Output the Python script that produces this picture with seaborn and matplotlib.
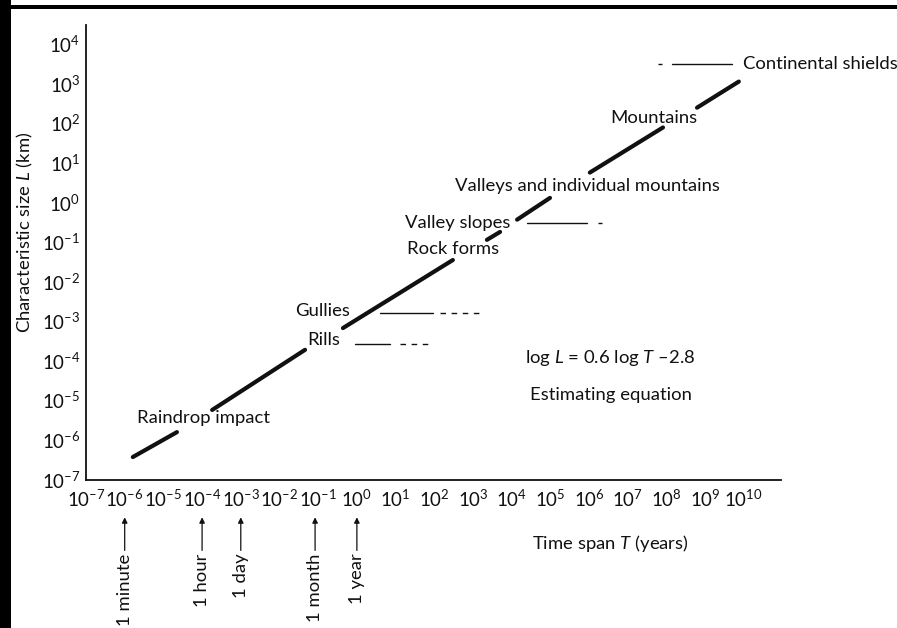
import numpy as np
import pandas as pd
import matplotlib
matplotlib.use("Agg")
import matplotlib.pyplot as plt
import matplotlib.transforms as mtransforms
from matplotlib.patches import Rectangle
import seaborn as sns

# all positions in log10 units (log T in years, log L in km)
decades_x = list(range(-7, 11))
decades_y = list(range(-7, 5))

# main trend line, broken where the labels sit
seg_x0 = [-5.79, -3.74, -0.36, 3.36, 4.14, 6.02, 8.79]
seg_y0 = [-6.44, -5.25, -3.18, -0.95, -0.44, 0.75, 2.39]
seg_x1 = [-4.65, -1.34, 2.48, 3.70, 4.99, 7.91, 9.87]
seg_y1 = [-5.81, -3.73, -1.46, -0.75, 0.11, 1.89, 3.05]

labels = ["Raindrop impact", "Rills", "Gullies", "Rock forms", "Valley slopes",
          "Valleys and individual mountains", "Mountains", "Continental shields"]
label_x = [-5.68, -1.29, -1.60, 1.29, 1.24, 2.53, 6.54, 9.98]
label_y = [-5.46, -3.48, -2.75, -1.18, -0.53, 0.42, 2.14, 3.49]

# time ranges of the features (solid part, then uncertain dashed part)
range_names = ["Rills", "Gullies", "Valley slopes", "Continental shields"]
range_y = [-3.58, -2.81, -0.53, 3.49]
solid_from = [-0.05, 0.60, 4.40, 8.14]
solid_to = [0.86, 1.97, 5.95, 9.69]
dash_from = [1.11, 2.15, 6.23, 7.78]
dash_to = [1.84, 3.18, 6.33, 7.88]

marks = ["1 minute", "1 hour", "1 day", "1 month", "1 year"]
mark_x = [-6, -4, -3, -1.08, 0]

sns.set_theme(style="white")
plt.rcParams["font.family"] = ["Lato", "DejaVu Sans"]
plt.rcParams["mathtext.fontset"] = "custom"
plt.rcParams["mathtext.rm"] = "Lato"
plt.rcParams["mathtext.it"] = "Lato:italic"
plt.rcParams["mathtext.default"] = "regular"
ink = "#111111"
fs = 13.3


def power_label(d):
    return f"$10^{{{d}}}$".replace("-", "–")


fig = plt.figure(figsize=(8.97, 6.28), dpi=100)
fig.patch.set_facecolor("white")
ax = fig.add_axes([86 / 897, 1 - 480 / 628, 695 / 897, 455 / 628])

seg = pd.DataFrame({
    "x": seg_x0 + seg_x1,
    "y": seg_y0 + seg_y1,
    "seg": list(range(len(seg_x0))) * 2,
})
sns.lineplot(data=seg, x="x", y="y", units="seg", estimator=None, sort=False,
             color=ink, lw=3.0, ax=ax)

solid = pd.DataFrame({"x": solid_from + solid_to, "y": range_y * 2,
                      "seg": list(range(len(range_y))) * 2})
dashed = pd.DataFrame({"x": dash_from + dash_to, "y": range_y * 2,
                       "seg": list(range(len(range_y))) * 2})
sns.lineplot(data=solid, x="x", y="y", units="seg", estimator=None, sort=False,
             color=ink, lw=1.0, ax=ax)
sns.lineplot(data=dashed, x="x", y="y", units="seg", estimator=None, sort=False,
             color=ink, lw=1.0, ax=ax, linestyle=(0, (4, 4)))

for t, x, y in zip(labels, label_x, label_y):
    ax.text(x, y, t, fontsize=fs, color=ink, ha="left", va="center")

ax.text(4.34, -3.94, r"log $\mathit{L}$ = 0.6 log $\mathit{T}$ –2.8",
        fontsize=fs, color=ink, ha="left", va="center")
ax.text(4.47, -4.87, "Estimating equation", fontsize=fs, color=ink,
        ha="left", va="center")

ax.set_xlim(-7, 10.96)
ax.set_ylim(-7.02, 4.48)
ax.set_xticks(decades_x)
ax.set_yticks(decades_y)
ax.set_xticklabels([power_label(d) for d in decades_x])
ax.set_yticklabels([power_label(d) for d in decades_y])
ax.tick_params(direction="in", length=13, width=1.1, color=ink,
               labelsize=13.5, labelcolor=ink)
ax.tick_params(axis="x", pad=6)
ax.tick_params(axis="y", pad=4)
for side in ["top", "right"]:
    ax.spines[side].set_visible(False)
for side in ["left", "bottom"]:
    ax.spines[side].set_color(ink)
    ax.spines[side].set_linewidth(1.3)

ax.set_xlabel(r"Time span $\mathit{T}$ (years)", fontsize=fs, color=ink)
ax.xaxis.set_label_coords(0.754, -0.116)
ax.set_ylabel(r"Characteristic size $\mathit{L}$ (km)", fontsize=fs, color=ink)
ax.yaxis.set_label_coords(-0.074, 0.545)

# arrows under the time axis
trans = mtransforms.blended_transform_factory(ax.transData, ax.transAxes)
for t, x in zip(marks, mark_x):
    ax.annotate(t, xy=(x, -0.082), xycoords=trans, xytext=(x, -0.162),
                textcoords=trans, rotation=90, ha="center", va="top",
                fontsize=fs, color=ink, annotation_clip=False,
                arrowprops=dict(arrowstyle="-|>", color=ink, lw=0.9,
                                shrinkA=0, shrinkB=0, mutation_scale=8))

# frame of the scanned page
fig.add_artist(Rectangle((0, 0), 11 / 897, 1, transform=fig.transFigure,
                         color="black", lw=0))
fig.add_artist(Rectangle((8 / 897, 1 - 9 / 628), 1, 4 / 628,
                         transform=fig.transFigure, color="black", lw=0))

fig.savefig("out.png", dpi=100)
